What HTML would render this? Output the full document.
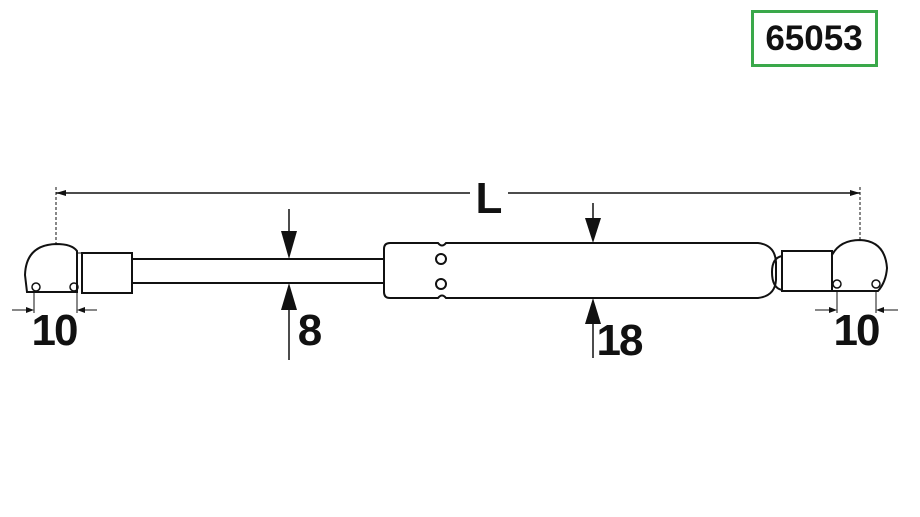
<!DOCTYPE html>
<html><head><meta charset="utf-8"><style>
html,body{margin:0;padding:0;background:#fff;width:920px;height:517px;overflow:hidden}
svg{display:block}
text{font-family:"Liberation Sans",Arial,sans-serif;font-weight:bold;fill:#111}
</style></head><body>
<svg width="920" height="517" viewBox="0 0 920 517" xmlns="http://www.w3.org/2000/svg">
<rect x="752.5" y="11.5" width="124" height="54" fill="#fff" stroke="#3aa84a" stroke-width="3"/>
<text x="814" y="50" font-size="35" text-anchor="middle">65053</text>

<g stroke="#111" fill="none" stroke-width="2">
<!-- L dimension -->
<line x1="56" y1="193" x2="470" y2="193" stroke-width="1.5"/>
<line x1="508" y1="193" x2="860" y2="193" stroke-width="1.5"/>
<line x1="56" y1="187" x2="56" y2="243" stroke-width="1" stroke-dasharray="3,2"/>
<line x1="860" y1="187" x2="860" y2="240" stroke-width="1" stroke-dasharray="3,2"/>

<!-- left ball -->
<path d="M77 251 Q72 244 56 244 Q26 245 25 275 L27 292 L77 292 Z"/>
<circle cx="36" cy="287" r="4" stroke-width="1.5"/>
<circle cx="74" cy="287" r="4" stroke-width="1.5"/>
<rect x="82" y="253" width="50" height="40"/>
<line x1="77" y1="253" x2="82" y2="253" stroke-width="1"/>
<!-- rod -->
<line x1="132" y1="259" x2="383" y2="259"/>
<line x1="132" y1="283" x2="383" y2="283"/>
<!-- cylinder -->
<path d="M390 243 L438 243 Q442 248 446 243 L758 243 Q775 245 776 262 L776 280 Q775 296 758 298 L446 298 Q442 293 438 298 L390 298 Q384 298 384 292 L384 249 Q384 243 390 243 Z"/>
<circle cx="441" cy="259" r="5"/>
<circle cx="441" cy="284" r="5"/>
<!-- right collar/sleeve -->
<path d="M782 256 Q772 258 772 272 Q772 288 782 290" />
<rect x="782" y="251" width="50" height="40"/>
<path d="M832 291 L832 255 Q840 240 860 240 Q885 241 887 268 Q886 282 878 291 Z"/>
<circle cx="837" cy="284" r="4" stroke-width="1.5"/>
<circle cx="876" cy="284" r="4" stroke-width="1.5"/>

<!-- 10 left dims -->
<line x1="34" y1="292" x2="34" y2="313" stroke-width="1"/>
<line x1="77" y1="292" x2="77" y2="313" stroke-width="1"/>
<line x1="12" y1="310" x2="30" y2="310" stroke-width="1"/>
<line x1="81" y1="310" x2="97" y2="310" stroke-width="1"/>
<!-- 10 right dims -->
<line x1="837" y1="291" x2="837" y2="313" stroke-width="1"/>
<line x1="876" y1="291" x2="876" y2="313" stroke-width="1"/>
<line x1="815" y1="310" x2="833" y2="310" stroke-width="1"/>
<line x1="880" y1="310" x2="898" y2="310" stroke-width="1"/>
<!-- 8 dims -->
<line x1="289" y1="209" x2="289" y2="235" stroke-width="1.5"/>
<line x1="289" y1="305" x2="289" y2="360" stroke-width="1.5"/>
<!-- 18 dims -->
<line x1="593" y1="203" x2="593" y2="222" stroke-width="1.5"/>
<line x1="593" y1="320" x2="593" y2="358" stroke-width="1.5"/>
</g>
<g fill="#111">
<polygon points="56,193 66,190 66,196"/>
<polygon points="860,193 850,190 850,196"/>
<polygon points="34,310 26,307 26,313"/>
<polygon points="77,310 85,307 85,313"/>
<polygon points="837,310 829,307 829,313"/>
<polygon points="876,310 884,307 884,313"/>
<polygon points="281,231 297,231 289,259"/>
<polygon points="281,310 297,310 289,283"/>
<polygon points="585,218 601,218 593,243"/>
<polygon points="585,324 601,324 593,298"/>
</g>
<text x="489" y="213" font-size="44" text-anchor="middle">L</text>
<text x="54" y="345" font-size="44" text-anchor="middle" letter-spacing="-2">10</text>
<text x="310" y="345" font-size="44" text-anchor="middle">8</text>
<text x="619" y="355" font-size="44" text-anchor="middle" letter-spacing="-2">18</text>
<text x="856" y="345" font-size="44" text-anchor="middle" letter-spacing="-2">10</text>
</svg>
</body></html>
